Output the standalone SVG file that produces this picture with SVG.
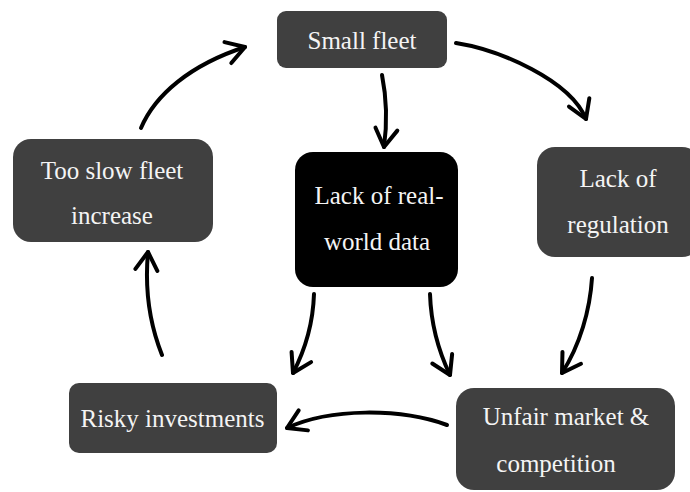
<svg xmlns="http://www.w3.org/2000/svg" width="690" height="492" viewBox="0 0 690 492">
<style>
.box{fill:#404040}
.dark{fill:#000000}
.lbl{font-family:"Liberation Serif","Times New Roman",serif;font-size:25px;fill:#f4f4f4;text-anchor:middle}
.arr{fill:none;stroke:#000;stroke-width:4;stroke-linecap:round;marker-end:url(#ah)}
</style>
<defs>
<marker id="ah" markerUnits="userSpaceOnUse" markerWidth="40" markerHeight="40" viewBox="-25 -20 40 40" refX="0" refY="0" orient="auto" overflow="visible">
<path d="M-18,-11 L0,0 L-18,11" fill="none" stroke="#000" stroke-width="4" stroke-linecap="round" stroke-linejoin="round"/>
</marker>
</defs>
<rect width="690" height="492" fill="#ffffff"/>
<g id="connectors">
<path class="arr" d="M141,128 C155,95 190,65 245,47"/>
<path class="arr" d="M456,43 C500,50 570,80 586,119"/>
<path class="arr" d="M382,75 Q389,110 384,147"/>
<path class="arr" d="M314,294 C313,325 305,350 293,373"/>
<path class="arr" d="M430,294 C431,325 438,350 450,375"/>
<path class="arr" d="M592,278 C590,310 580,345 562,373"/>
<path class="arr" d="M447,425 C400,408 330,408 287,428"/>
<path class="arr" d="M162,355 C148,320 145,285 148,252"/>
</g>
<g id="small-fleet">
<rect class="box" x="277" y="11" width="170" height="57" rx="9"/>
<text class="lbl" x="362" y="49">Small fleet</text>
</g>
<g id="too-slow-fleet-increase">
<rect class="box" x="13" y="139" width="200" height="103" rx="18"/>
<text class="lbl" x="112" y="179">Too slow fleet</text>
<text class="lbl" x="112" y="224">increase</text>
</g>
<g id="lack-of-real-world-data">
<rect class="dark" x="295" y="152" width="163" height="135" rx="18"/>
<text class="lbl" x="379" y="204">Lack of real-</text>
<text class="lbl" x="377" y="250">world data</text>
</g>
<g id="lack-of-regulation">
<rect class="box" x="537" y="147" width="163" height="110" rx="18"/>
<text class="lbl" x="618" y="187">Lack of</text>
<text class="lbl" x="618" y="233">regulation</text>
</g>
<g id="risky-investments">
<rect class="box" x="69" y="383" width="208" height="70" rx="10"/>
<text class="lbl" x="172.5" y="427">Risky investments</text>
</g>
<g id="unfair-market">
<rect class="box" x="456" y="388" width="219" height="102" rx="18"/>
<text class="lbl" x="566" y="425">Unfair market &amp;</text>
<text class="lbl" x="556" y="472">competition</text>
</g>
</svg>
